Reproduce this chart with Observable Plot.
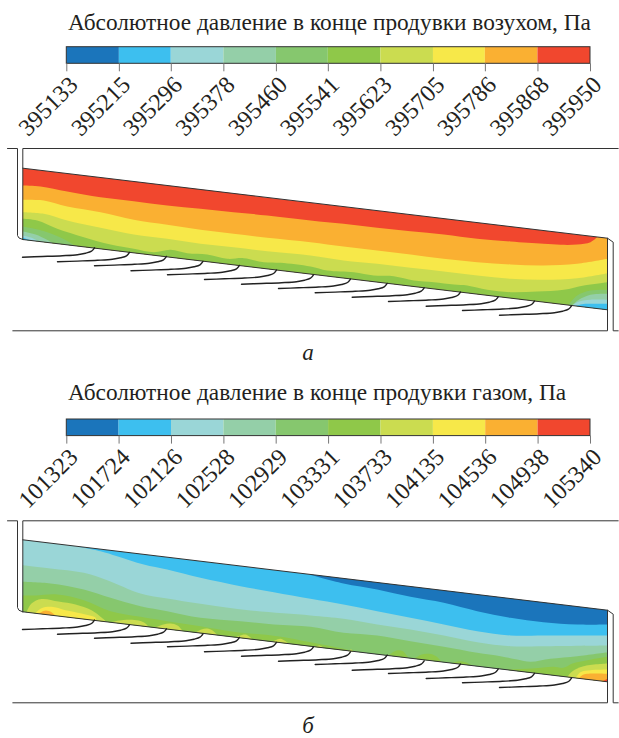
<!DOCTYPE html>
<html lang="ru">
<head>
<meta charset="utf-8">
<script src="https://cdn.jsdelivr.net/npm/d3@7"></script>
<script src="https://cdn.jsdelivr.net/npm/@observablehq/plot@0.6"></script>
<style>
  html,body{margin:0;padding:0;background:#fff;width:619px;height:738px;overflow:hidden}
  #fig{width:619px;height:738px;font-family:"Liberation Serif",serif;color:#231f20}
  #fig svg{display:block;overflow:visible;background:transparent}
  .title{font-size:23.35px;white-space:nowrap;padding-left:68px;box-sizing:border-box;height:36px;line-height:28px;padding-top:8px}
  .title.b{height:38px;padding-top:8px}
  .cap{font-size:23px;font-style:italic;text-align:center;width:619px;padding-right:3px;box-sizing:border-box;height:35px;line-height:35px}
  .cap.b{height:30px;line-height:38px}
</style>
</head>
<body>
<div id="fig"></div>
<script>
// ---------- data ----------
const titleA = "Абсолютное давление в конце продувки возухом, Па";
const titleB = "Абсолютное давление в конце продувки газом, Па";
const captionA = "а";
const captionB = "б";
const ticksA = [395133,395215,395296,395378,395460,395541,395623,395705,395786,395868,395950];
const ticksB = [101323,101724,102126,102528,102929,103331,103733,104135,104536,104938,105340];
const levelColors = ["#1b75bb","#3dbfef","#9ad6d7","#94cfa8","#86c76e","#8fc849","#cbdc50","#f7e849","#fab032","#f1472e"];
const [DARK,BLUE,TEAL,SEAFOAM,GREEN,LIME,YGREEN,YELLOW,ORANGE,RED] = levelColors;

// contour polygons, panel a (channel plane coordinates)
const channelA = [[22.3,167.7],[607,237.7],[607,309.3],[22.3,239]];
const orangeA = [[22.3,185],[40,186],[66.7,191],[100,196.7],[133.3,200.7],[166.7,205],[200,208.3],[233,211.7],[266.7,215],[310,220],[343,223.3],[376.7,227.3],[410,230.7],[443.3,234],[476.7,238.3],[510,241],[543,243.3],[560,244.3],[576.7,244],[590,241.7],[596.7,236.5],[607,237.7],[607,309.3],[22.3,239]];
const yellowA = [[22.3,199.3],[43.3,200],[66.7,206],[100,211.7],[133.3,219.3],[166.7,224.3],[200,229.3],[233,233.3],[266.7,237.3],[310,241.7],[343,246],[376.7,250],[410,254],[443,258.3],[476.7,261.7],[510,264],[543,265],[576.7,263.3],[607,258.3],[607,309.3],[22.3,239]];
const ygreenA = [[22.3,211.7],[43.3,213.3],[66.7,220],[100,227.3],[133.3,234],[166.7,238.3],[200,243.3],[233,246.7],[266.7,250.7],[310,255],[343,260],[376.7,263.3],[410,267.3],[443.3,271],[476.7,275],[510,278.3],[543,279.3],[576.7,277.7],[607,272.7],[607,309.3],[22.3,239]];
const limeA = [[22.3,218.3],[36.7,220],[56.7,228.3],[83.3,236.7],[110,244],[133.3,248.3],[153.3,251.7],[170,249.3],[186.7,252.7],[206.7,254],[226.7,258.3],[243.3,257.7],[263.3,261.7],[280,262.3],[310,266],[326.7,270],[353.3,271.7],[373.3,275],[393.3,275.7],[413.3,280],[433.3,281.7],[453.3,284],[466.7,285],[486.7,289.3],[510,291.7],[536.7,291],[563.3,289.3],[583.3,285],[607,281.7],[607,309.3],[22.3,239]];
const greenLeftA = [[22.3,226],[43,230.5],[60,237],[75,245.4],[22.3,239]];
const seafoamLeftA = [[22.3,231],[35,234],[46,239],[52,242.6],[22.3,239]];
const tealLeftA = [[22.3,235],[31.7,237.5],[38.3,241],[22.3,239]];
const blueLeftA = [[22.3,237],[30,239.9],[22.3,239]];
const greenRightA = [[568,304.5],[576.7,295],[590,290],[607,289.3],[607,309.3]];
const seafoamRightA = [[571.7,305],[578.3,299.3],[590,294.3],[607,293.3],[607,309.3]];
const tealRightA = [[571.7,305],[576.7,301.7],[590,299.3],[607,299.3],[607,309.3]];
const blueRightA = [[575,305.5],[580,304],[586.7,303.3],[607,303.3],[607,309.3]];

// contour polygons, panel б
const channelB = [[22.3,540.3],[607,610.7],[607,682.3],[22.3,612.3]];
const blueB = [[75,546.7],[100,551.7],[116.7,556.7],[143.3,565],[166.7,570],[200,578.3],[240,586.7],[273.3,592.7],[310,599.3],[343,605],[376.7,611.7],[410,618.3],[443.3,625],[476.7,631.7],[510,636],[543,636],[607,636],[607,610.7]];
const darkB = [[308,574.8],[343,584],[376.7,590],[410,597.3],[443.3,603.3],[476.7,611.7],[510,618.3],[543,622.7],[576.7,625],[607,625],[607,610.7]];
const seafoamB = [[22.3,565.7],[50,569],[83.3,573.3],[106.7,580.7],[140,594],[166.7,599],[200,604.3],[250,611],[310,616],[343,619.3],[376.7,625],[410,630],[443.3,636],[476.7,642.7],[510,646.7],[543,646.7],[607,646],[607,682.3],[22.3,612.3]];
const greenB = [[22.3,582.3],[50,584],[83.3,590],[110,598.3],[140,606.7],[166.7,611.7],[200,618.3],[240,621.7],[273.3,625],[310,627.3],[343,633.3],[376.7,636],[410,641.7],[443.3,647.3],[476.7,653.3],[500,656.7],[516.7,660],[530,662.3],[550,659.3],[576.7,656.7],[607,652.7],[607,682.3],[22.3,612.3]];
const limeMainB = [[22.3,596],[35,596],[56.7,595],[83.3,600.7],[110,611.7],[140,617.3],[166.7,621.7],[200,626.7],[233,632.3],[276.7,636.7],[310,642.7],[343,649.3],[355,652.6],[22.3,612.3]];
const limeBump1B = [[388,656],[396,651],[402,651.5],[408,658.4]];
const limeBump2B = [[414,659.2],[421,655],[430,654.5],[436,657],[441,662.5]];
const limeBump3B = [[451.7,663.7],[458,661.7],[465,662.7],[471.7,666.1]];
const limeRightB = [[505,670.1],[520,669.5],[532,669],[543,668],[553,667.3],[563,668.3],[572,664],[587,660.7],[607,657.3],[607,682.3]];
const ygreenBlobB = [[26,612.8],[31,604],[41,599.5],[58,602],[75,605],[91,610.7],[101,618],[106,622.4]];
const ygreenBump2B = [[110,622.8],[123,620.5],[138,621],[145,624],[148,627.5]];
const ygreenBump3B = [[155,628.2],[163,625],[170,624],[177,626],[182,631.4]];
const ygreenBump4B = [[195,633],[201,630],[206.7,629],[212,631],[217,635.6]];
const ygreenBump5B = [[235,637.8],[245,635],[252,639.9]];
const ygreenBump6B = [[272,642.2],[280,639.3],[288.3,644.2]];
const ygreenBump7B = [[315,647.4],[319,646],[323,648.4]];
const ygreenBump8B = [[348,651.3],[350.5,650],[353,652]];
const ygreenRightB = [[566.7,677.5],[572,671.7],[583,666.7],[607,664],[607,682.3]];
const yellowLeftB = [[34.7,613.8],[41,608.7],[51,607.3],[65,610.7],[81,614],[95,618.3],[95.3,621]];
const yellowRightB = [[575,678.5],[580,672.7],[590,670.7],[607,670],[607,682.3]];
const orangeLeftB = [[38,614.2],[45,611],[51,612.7],[55,616.2]];
const orangeRightB = [[578.3,679],[583,675],[607,674.3],[607,682.3]];
const redRightB = [[602,681.7],[607,679.3],[607,682.3]];

// outline of the channel and housing
const framesA = [
  [[7,148],[17,148],[17,235],[18.5,237.5],[22.3,239]],
  [[22.3,239],[22.3,148],[617.7,148]],
  [[12.3,330.3],[607,330.3],[607,237.7],[612.7,241.7],[612.7,330.3],[617.7,330.3]],
  [[22.3,167.7],[607,237.7]],
  [[22.3,239],[607,309.3]]
];
const framesB = [
  [[7,521.3],[17,521.3],[17,608],[18.5,610.8],[22.3,612.3]],
  [[22.3,612.3],[22.3,521.3],[617.7,521.3]],
  [[12.3,703.3],[607,703.3],[607,610.7],[612.7,614.7],[612.7,703.3],[617.7,703.3]],
  [[22.3,540.3],[607,610.7]],
  [[22.3,612.3],[607,682.3]]
];

// louvre fins
const finStartX = [22,57,94,130.5,167,204,241,278,314.7,351.7,388,425.7,462,499];
const finStartYA = [256.7,261.3,265.3,270.3,274.3,279,283.7,288,292.3,296.7,301,305.7,310,314.7];
const finStartYB = [630,634.7,638.7,643.7,647.3,652.3,656.7,661.7,665,670.7,674,679,683.3,688];
const finDX = [0,20,40,55,63,69,72];
const finDY = [0,-0.7,-1.5,-2.5,-4,-6,-9.4];

// ---------- drawing ----------
// each layer: polygon, level colour, number of closing points that stay straight
const layersA = [
  [channelA,RED,3],[orangeA,ORANGE,3],[yellowA,YELLOW,2],[ygreenA,YGREEN,2],[limeA,LIME,2],
  [greenLeftA,GREEN,1],[seafoamLeftA,SEAFOAM,1],[tealLeftA,TEAL,1],[blueLeftA,BLUE,1],
  [greenRightA,GREEN,1],[seafoamRightA,SEAFOAM,1],[tealRightA,TEAL,1],[blueRightA,BLUE,1]
];
const layersB = [
  [channelB,TEAL,3],[blueB,BLUE,1],[darkB,DARK,1],[seafoamB,SEAFOAM,2],[greenB,GREEN,2],
  [limeMainB,LIME,1],[limeBump1B,LIME,0],[limeBump2B,LIME,0],[limeBump3B,LIME,0],[limeRightB,LIME,1],
  [ygreenBlobB,YGREEN,0],[ygreenBump2B,YGREEN,0],[ygreenBump3B,YGREEN,0],[ygreenBump4B,YGREEN,0],
  [ygreenBump5B,YGREEN,0],[ygreenBump6B,YGREEN,0],[ygreenBump7B,YGREEN,0],[ygreenBump8B,YGREEN,0],[ygreenRightB,YGREEN,1],
  [yellowLeftB,YELLOW,0],[yellowRightB,YELLOW,1],[orangeLeftB,ORANGE,0],[orangeRightB,ORANGE,1],[redRightB,RED,1]
];

// smooth the contour itself, keep the closing points along the channel edge straight
const smoothContour = tail => context => {
  const pts = [];
  return {
    areaStart(){}, areaEnd(){},
    lineStart(){ pts.length = 0; },
    point(x,y){ pts.push([x,y]); },
    lineEnd(){
      const n = pts.length - tail;
      const c = d3.curveCatmullRom(context);
      c.lineStart();
      pts.slice(0,n).forEach(p => c.point(p[0],p[1]));
      c.lineEnd();
      pts.slice(n).forEach(p => context.lineTo(p[0],p[1]));
      context.closePath();
    }
  };
};

function colorbar(ticks, top){
  const segs = d3.pairs(ticks).map(([a,b],i)=>({a,b,c:levelColors[i]}));
  return Plot.plot({
    width:619, height:111, marginLeft:66.3, marginRight:29, marginTop:top, marginBottom:111-top-16.6,
    style:{fontFamily:'"Liberation Serif",serif',background:"transparent"},
    x:{domain:[ticks[0],ticks[ticks.length-1]],axis:null},
    y:{domain:[0,1],axis:null},
    marks:[
      Plot.rect(segs,{x1:"a",x2:"b",y1:0,y2:1,fill:"c"}),
      Plot.rect([0],{x1:ticks[0],x2:ticks[ticks.length-1],y1:0,y2:1,fill:"none",stroke:"#333",strokeWidth:1}),
      Plot.axisX({ticks,tickSize:8,text:null,label:null,stroke:"#777",anchor:"bottom"}),
      Plot.text(ticks,{x:d=>d,text:d=>String(d),frameAnchor:"bottom",rotate:-45,textAnchor:"end",lineAnchor:"middle",dx:7,dy:17,fontSize:24,fill:"#231f20"})
    ]
  });
}
function channel(layers, frames, finY, y0, y1){
  const fins = finStartX.flatMap((sx,i)=>finDX.map((dx,j)=>({fin:i,x:sx+dx,y:finY[i]+finDY[j]})));
  return Plot.plot({
    width:619, height:y1-y0, margin:0,
    style:{background:"transparent"},
    x:{domain:[0,619],axis:null},
    y:{domain:[y0,y1],reverse:true,axis:null},
    marks:[
      ...layers.map(([pts,c,tail])=>Plot.line(pts,{x:d=>d[0],y:d=>d[1],fill:c,stroke:"none",curve:smoothContour(tail)})),
      ...frames.map(pts=>Plot.line(pts,{x:d=>d[0],y:d=>d[1],stroke:"#333",strokeWidth:1})),
      Plot.line(fins,{x:"x",y:"y",z:"fin",stroke:"#222",strokeWidth:1.4,curve:"catmull-rom"})
    ]
  });
}
function div(cls,text){const e=document.createElement("div");e.className=cls;e.textContent=text;return e;}
const fig=document.getElementById("fig");
fig.append(
  div("title",titleA),
  colorbar(ticksA,10.7),
  channel(layersA,framesA,finStartYA,147,335),
  div("cap",captionA),
  div("title b",titleB),
  colorbar(ticksB,11),
  channel(layersB,framesB,finStartYB,520,708),
  div("cap b",captionB)
);
</script>
</body>
</html>
